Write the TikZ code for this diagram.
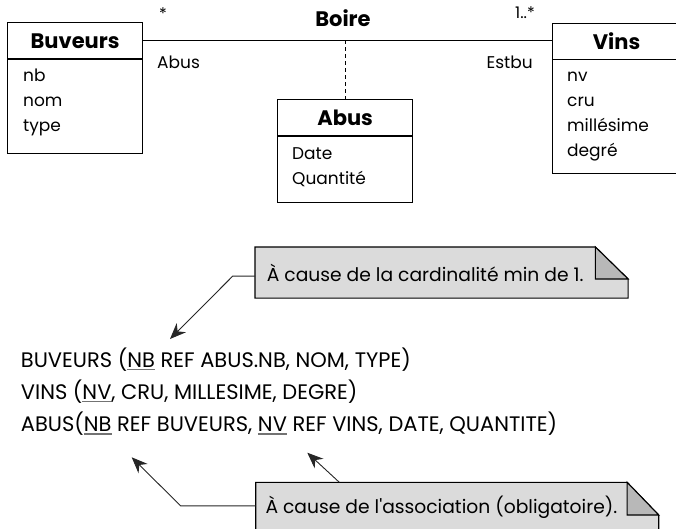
\documentclass[tikz,border=0pt]{standalone}
\usepackage{fontspec}
\setmainfont{Poppins}
\usepackage{xcolor}
\usetikzlibrary{arrows.meta,positioning,calc,backgrounds}

\definecolor{notefill}{gray}{0.86}
\definecolor{foldfill}{gray}{0.72}
\newcommand{\cle}[1]{{\setbox0\hbox{#1}\rlap{\color{black!55}\rule[-3pt]{\wd0}{1.3pt}}\box0}}

\tikzset{
  classbox/.style={draw, line width=1.2pt, inner sep=0pt, anchor=north west},
  classname/.style={font=\bfseries\fontsize{21}{24}\selectfont, anchor=base, inner sep=0pt},
  attr/.style={font=\fontsize{17}{20}\selectfont, anchor=base west, inner sep=0pt},
  role/.style={font=\fontsize{17}{20}\selectfont, inner sep=0pt},
  mult/.style={font=\fontsize{16}{18}\selectfont, inner sep=0pt},
  relation/.style={font=\fontsize{21}{24}\selectfont, anchor=base west, inner sep=0pt},
  notebox/.style={font=\fontsize{18.7}{21}\selectfont, inner sep=0pt, anchor=north west},
  leader/.style={draw=black!85, line width=0.9pt},
  pointer/.style={leader, -{Stealth[length=16pt, width=13pt]}},
}

\begin{document}
\begin{tikzpicture}[x=1pt, y=-1pt]
  \useasboundingbox (0,0) rectangle (676,529);

  \node[classbox, minimum width=135pt, minimum height=131pt] (buveurs) at (7,22) {};
  \node[classbox, minimum width=135pt, minimum height=103pt] (abus) at (277,99) {};
  \node[classbox, minimum width=128pt, minimum height=150pt] (vins) at (552,22.7) {};
  \draw[line width=1.2pt] ([yshift=-37pt]buveurs.north west) -- ([yshift=-37pt]buveurs.north east);
  \draw[line width=1.2pt] ([yshift=-37pt]abus.north west) -- ([yshift=-37pt]abus.north east);
  \draw[line width=1.2pt] ([yshift=-36.5pt]vins.north west) -- ([yshift=-36.5pt]vins.north east);

  \node[classname] (buveurs-name) at ([yshift=-27pt]buveurs.north) {Buveurs};
  \node[attr] (nb) at ([shift={(16pt,-60pt)}]buveurs.north west) {nb};
  \node[attr] (nom) at ([yshift=-25pt]nb.base west) {nom};
  \node[attr] (type) at ([yshift=-25pt]nom.base west) {type};

  \node[classname] (abus-name) at ([yshift=-27pt]abus.north) {Abus};
  \node[attr] (date) at ([shift={(15pt,-61pt)}]abus.north west) {Date};
  \node[attr] (quantite) at ([yshift=-25pt]date.base west) {Quantité};

  \node[classname] (vins-name) at ([yshift=-26.5pt]vins.north) {Vins};
  \node[attr] (nv) at ([shift={(15pt,-59pt)}]vins.north west) {nv};
  \node[attr] (cru) at ([yshift=-25pt]nv.base west) {cru};
  \node[attr] (millesime) at ([yshift=-25pt]cru.base west) {millésime};
  \node[attr] (degre) at ([yshift=-25pt]millesime.base west) {degré};

  \coordinate (boire) at (344.5,40.5);
  \draw[line width=1.1pt] (buveurs.east |- boire) -- (vins.west |- boire);
  \draw[line width=1pt, dash pattern=on 4pt off 3pt] (abus.north |- boire) -- (abus.north);
  \node[classname] (boire-name) at (343,27) {Boire};
  \node[mult, anchor=north west] (mult-buveurs) at (159,8) {*};
  \node[role, anchor=base west] (role-buveurs) at (157,68.3) {Abus};
  \node[mult, anchor=north east] (mult-vins) at (535,7) {1..*};
  \node[role, anchor=base east] (role-vins) at (533,68.3) {Estbu};

  \node[relation] (rel-buveurs) at (20.7,367) {BUVEURS (\cle{NB} REF ABUS.NB, NOM, TYPE)};
  \node[relation] (rel-vins) at ([yshift=-32.3pt]rel-buveurs.base west) {VINS (\cle{NV}, CRU, MILLESIME, DEGRE)};
  \node[relation] (rel-abus) at ([yshift=-32.3pt]rel-vins.base west) {ABUS(\cle{NB} REF BUVEURS, \cle{NV} REF VINS, DATE, QUANTITE)};

  \node[notebox, minimum width=340pt, minimum height=50.7pt] (cardnote) at (255,247) {À cause de la cardinalité min de 1.};
  \node[notebox, minimum width=371pt, minimum height=50pt] (assocnote) at (255.7,482.3) {À cause de l\textquotesingle association (obligatoire).};
  \begin{scope}[on background layer]
    \draw[line width=1.1pt, fill=notefill] (cardnote.north west) -- (cardnote.north east) -- ++(32.7,32) |- (cardnote.south west) -- cycle;
    \draw[line width=1.1pt, fill=foldfill] (cardnote.north east) -- ++(32.7,32) -- ++(-32.7,0) -- cycle;
    \draw[line width=1.1pt, fill=notefill] (assocnote.south west) |- (assocnote.north east) -- ++(31.6,32.7) |- (assocnote.south west);
    \draw[line width=1.1pt, fill=foldfill] (assocnote.north east) -- ++(31.6,32.7) -- ++(-31.6,0) -- cycle;
  \end{scope}

  \coordinate (cardtip) at (170,339);
  \coordinate (nbtip) at (131.7,457.3);
  \coordinate (nvtip) at (307.3,452.7);
  \draw[pointer] ([yshift=-3.6pt]cardnote.west) -- ++(-22.3,0) -- (cardtip);
  \draw[pointer] ([yshift=1.6pt]assocnote.west) -- ++(-75,0) -- (nbtip);
  \draw[pointer] ([xshift=83.6pt]assocnote.north west) -- (nvtip);
\end{tikzpicture}
\end{document}
